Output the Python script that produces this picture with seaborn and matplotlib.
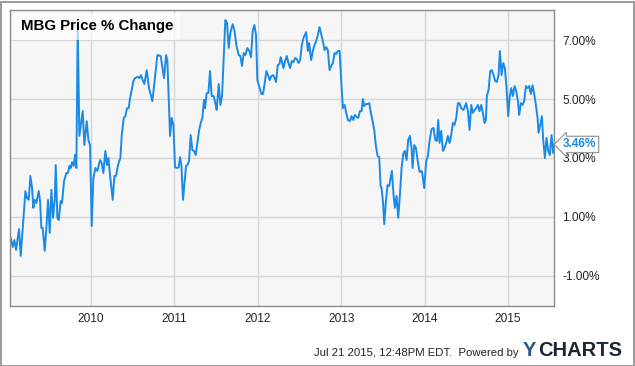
import numpy as np
import pandas as pd
import matplotlib
matplotlib.use("Agg")
import matplotlib.pyplot as plt
import matplotlib.dates as mdates
from matplotlib.ticker import FixedLocator, FuncFormatter
import seaborn as sns

# ---- data (decimal year, % change) ----
years = [
    2009.036, 2009.060, 2009.080, 2009.100, 2009.136, 2009.156, 2009.172, 2009.192, 2009.212, 2009.232,
    2009.252, 2009.272, 2009.292, 2009.308, 2009.324, 2009.344, 2009.372, 2009.388, 2009.404, 2009.420,
    2009.444, 2009.464, 2009.484, 2009.504, 2009.524, 2009.544, 2009.564, 2009.576, 2009.596, 2009.612,
    2009.636, 2009.652, 2009.676, 2009.704, 2009.724, 2009.740, 2009.756, 2009.772, 2009.792, 2009.808,
    2009.824, 2009.840, 2009.860, 2009.900, 2009.920, 2009.948, 2009.968, 2009.988, 2010.008, 2010.028,
    2010.052, 2010.076, 2010.108, 2010.128, 2010.148, 2010.172, 2010.192, 2010.208, 2010.228, 2010.260,
    2010.280, 2010.300, 2010.324, 2010.352, 2010.368, 2010.392, 2010.412, 2010.432, 2010.452, 2010.468,
    2010.488, 2010.508, 2010.528, 2010.560, 2010.580, 2010.600, 2010.620, 2010.640, 2010.668, 2010.696,
    2010.736, 2010.764, 2010.796, 2010.836, 2010.876, 2010.900, 2010.916, 2010.948, 2010.968, 2010.988,
    2011.008, 2011.036, 2011.052, 2011.068, 2011.084, 2011.104, 2011.124, 2011.140, 2011.156, 2011.176,
    2011.196, 2011.216, 2011.236, 2011.256, 2011.276, 2011.296, 2011.316, 2011.336, 2011.356, 2011.368,
    2011.388, 2011.408, 2011.428, 2011.448, 2011.472, 2011.492, 2011.508, 2011.532, 2011.552, 2011.572,
    2011.592, 2011.612, 2011.632, 2011.652, 2011.672, 2011.700, 2011.720, 2011.744, 2011.772, 2011.792,
    2011.812, 2011.832, 2011.852, 2011.876, 2011.900, 2011.920, 2011.940, 2011.960, 2011.980, 2011.996,
    2012.016, 2012.044, 2012.064, 2012.084, 2012.104, 2012.124, 2012.144, 2012.164, 2012.184, 2012.204,
    2012.220, 2012.240, 2012.260, 2012.276, 2012.288, 2012.308, 2012.328, 2012.348, 2012.368, 2012.388,
    2012.408, 2012.428, 2012.448, 2012.468, 2012.488, 2012.508, 2012.528, 2012.548, 2012.580, 2012.600,
    2012.616, 2012.640, 2012.660, 2012.680, 2012.700, 2012.720, 2012.740, 2012.760, 2012.780, 2012.800,
    2012.820, 2012.840, 2012.860, 2012.880, 2012.900, 2012.920, 2012.940, 2012.960, 2012.980, 2013.000,
    2013.020, 2013.040, 2013.060, 2013.080, 2013.104, 2013.124, 2013.144, 2013.164, 2013.184, 2013.204,
    2013.224, 2013.244, 2013.260, 2013.276, 2013.296, 2013.316, 2013.336, 2013.356, 2013.376, 2013.396,
    2013.416, 2013.436, 2013.456, 2013.472, 2013.484, 2013.500, 2013.516, 2013.536, 2013.556, 2013.576,
    2013.592, 2013.608, 2013.628, 2013.644, 2013.664, 2013.684, 2013.704, 2013.724, 2013.744, 2013.764,
    2013.784, 2013.804, 2013.824, 2013.844, 2013.856, 2013.876, 2013.896, 2013.916, 2013.940, 2013.968,
    2013.996, 2014.020, 2014.040, 2014.060, 2014.084, 2014.108, 2014.128, 2014.148, 2014.164, 2014.180,
    2014.200, 2014.220, 2014.240, 2014.260, 2014.280, 2014.300, 2014.320, 2014.340, 2014.360, 2014.380,
    2014.400, 2014.420, 2014.440, 2014.468, 2014.500, 2014.520, 2014.540, 2014.560, 2014.580, 2014.600,
    2014.620, 2014.640, 2014.660, 2014.680, 2014.700, 2014.720, 2014.736, 2014.748, 2014.768, 2014.788,
    2014.808, 2014.828, 2014.848, 2014.868, 2014.888, 2014.904, 2014.924, 2014.944, 2014.964, 2014.984,
    2015.004, 2015.020, 2015.040, 2015.060, 2015.080, 2015.100, 2015.120, 2015.136, 2015.156, 2015.176,
    2015.196, 2015.216, 2015.236, 2015.256, 2015.276, 2015.296, 2015.316, 2015.336, 2015.356, 2015.368,
    2015.388, 2015.408, 2015.424, 2015.444, 2015.464, 2015.484, 2015.504, 2015.524, 2015.544, 2015.553,
]
pct_change = [
    0.29, -0.02, 0.22, -0.12, 0.59, -0.32, 0.29, 1.07, 1.88, 1.64,
    1.58, 2.39, 1.98, 1.31, 1.58, 1.47, 1.88, 1.54, 0.63, 0.63,
    -0.15, 0.63, 1.58, 0.46, 1.92, 0.97, 1.58, 2.76, 0.97, 0.90,
    1.54, 1.47, 2.22, 2.49, 2.49, 2.73, 2.66, 2.86, 2.73, 3.10,
    2.66, 7.51, 3.75, 4.59, 3.44, 4.25, 3.61, 3.44, 0.69, 2.32,
    2.66, 2.56, 2.93, 2.83, 2.49, 3.24, 2.76, 3.00, 2.42, 1.58,
    2.39, 2.39, 2.76, 3.00, 3.75, 4.36, 4.42, 4.69, 4.69, 5.03,
    5.31, 5.61, 5.71, 5.75, 5.71, 5.81, 5.64, 5.51, 5.98, 5.37,
    4.93, 5.64, 6.49, 6.46, 5.71, 6.49, 6.32, 3.75, 4.36, 4.12,
    2.69, 2.66, 2.69, 3.03, 2.76, 1.58, 2.22, 2.73, 2.76, 2.90,
    3.78, 3.27, 3.24, 3.10, 3.51, 3.92, 4.19, 4.36, 4.97, 4.69,
    5.20, 5.20, 5.95, 5.10, 5.10, 4.86, 4.63, 5.51, 4.80, 5.10,
    6.39, 7.68, 7.58, 6.73, 7.24, 7.54, 7.34, 6.83, 6.49, 6.46,
    6.12, 6.56, 6.49, 6.73, 6.63, 6.42, 7.31, 7.51, 7.17, 5.64,
    5.44, 5.17, 5.17, 5.54, 5.95, 5.81, 5.64, 5.78, 5.81, 5.71,
    5.58, 6.15, 6.19, 6.42, 6.29, 6.05, 6.29, 6.46, 6.22, 6.05,
    6.29, 6.25, 6.39, 6.36, 6.22, 6.32, 6.83, 7.07, 7.27, 6.63,
    6.90, 6.32, 6.63, 6.83, 6.97, 7.17, 7.44, 7.20, 6.97, 6.66,
    6.76, 6.66, 5.98, 6.12, 6.22, 6.56, 6.53, 6.63, 6.63, 5.61,
    4.69, 4.80, 4.53, 4.29, 4.25, 4.42, 4.29, 4.46, 4.39, 4.36,
    4.59, 4.59, 5.00, 4.76, 4.83, 4.83, 4.86, 4.53, 4.25, 3.95,
    3.41, 3.07, 3.03, 2.05, 1.98, 1.54, 0.76, 1.54, 2.08, 2.05,
    2.32, 2.56, 1.75, 1.31, 1.71, 0.97, 1.75, 2.66, 3.14, 3.24,
    2.93, 3.61, 3.75, 3.34, 2.66, 3.44, 3.34, 2.93, 2.53, 2.56,
    1.98, 2.90, 3.07, 3.58, 3.98, 4.02, 3.61, 3.58, 4.29, 3.51,
    3.92, 3.24, 3.34, 3.51, 3.75, 3.51, 3.78, 4.19, 4.12, 4.36,
    4.86, 4.86, 4.69, 4.63, 4.86, 4.59, 3.95, 4.80, 4.53, 4.63,
    4.69, 4.80, 4.59, 4.80, 4.53, 4.19, 4.29, 5.10, 5.31, 5.95,
    5.98, 5.81, 5.61, 5.58, 5.81, 6.63, 5.81, 6.22, 6.05, 5.37,
    4.42, 5.03, 5.37, 5.10, 5.44, 5.27, 4.93, 4.46, 4.86, 4.80,
    4.93, 5.44, 5.37, 5.44, 5.17, 5.47, 5.17, 4.80, 4.36, 3.85,
    4.12, 4.42, 3.61, 3.00, 3.68, 3.24, 3.10, 3.78, 3.17, 3.46,
]
y_ticks = [-1, 1, 3, 5, 7]
title = "MBG Price % Change"
last_label = "3.46%"
footer = "Jul 21 2015, 12:48PM EDT.  Powered by"


def dec_to_date(y):
    yr = int(np.floor(y))
    start = pd.Timestamp(year=yr, month=1, day=1)
    end = pd.Timestamp(year=yr + 1, month=1, day=1)
    return start + (y - yr) * (end - start)


df = pd.DataFrame({"date": [dec_to_date(y) for y in years], "pct": pct_change})

sns.set_style("white")
plt.rcParams["font.family"] = ["Liberation Sans", "DejaVu Sans"]

W, H = 635, 366
fig = plt.figure(figsize=(W / 100, H / 100), dpi=100)
fig.patch.set_facecolor("white")

ax = fig.add_axes([10 / W, (H - 306) / H, 544 / W, 296 / H])
ax.set_facecolor("#f6f6f6")

sns.lineplot(data=df, x="date", y="pct", ax=ax, color="#1a8ae6", linewidth=1.4)

ax.set_xlim(pd.Timestamp("2009-01-11"), pd.Timestamp("2015-07-22"))
ax.set_ylim(-2.02, 8.02)

ax.xaxis.set_major_locator(mdates.YearLocator())
ax.xaxis.set_major_formatter(mdates.DateFormatter("%Y"))
ax.yaxis.set_major_locator(FixedLocator(y_ticks))
ax.yaxis.set_major_formatter(FuncFormatter(lambda v, p: f"{v:.2f}%"))
ax.yaxis.tick_right()
ax.tick_params(axis="both", length=0, labelsize=8.6, colors="#222222")
ax.tick_params(axis="x", pad=5)
ax.tick_params(axis="y", pad=6)
ax.set_xlabel("")
ax.set_ylabel("")

ax.grid(True, color="#d6d6d6", linewidth=1.0)
ax.set_axisbelow(True)
for s in ax.spines.values():
    s.set_visible(True)
    s.set_color("#8a8a8a")
    s.set_linewidth(1.0)

# title box
ax.text(0.0205, 0.945, title, transform=ax.transAxes, fontsize=10.8, fontweight="bold",
        color="black", va="center", ha="left",
        bbox=dict(boxstyle="square,pad=0.45", facecolor="white", alpha=0.65, edgecolor="none"))

# last value callout
ax.annotate(last_label, xy=(1.0, pct_change[-1]), xycoords=("axes fraction", "data"),
            xytext=(6.5, 0), textcoords="offset points", fontsize=8.6, fontweight="bold",
            color="#1a8ae6", va="center", ha="left", annotation_clip=False,
            bbox=dict(boxstyle="larrow,pad=0.18", facecolor="white", edgecolor="#999999", linewidth=0.9))

# footer
fig.text(519 / W, 1 - 353 / H, footer, fontsize=8.2, color="#222222", ha="right", va="center")
fig.text(523 / W, 1 - 350 / H, "Y", fontsize=14.5, fontweight="bold", color="#2f5488",
         ha="left", va="center")
fig.text(538 / W, 1 - 350 / H, "CHARTS", fontsize=14.5, fontweight="bold", color="#1b2736",
         ha="left", va="center")

# outer border
fig.add_artist(plt.Rectangle((0.5 / W, 0.5 / H), (W - 2) / W, (H - 2) / H,
                             transform=fig.transFigure, fill=False,
                             edgecolor="#8a8a8a", linewidth=1.2))

fig.savefig("out.png", dpi=100)
